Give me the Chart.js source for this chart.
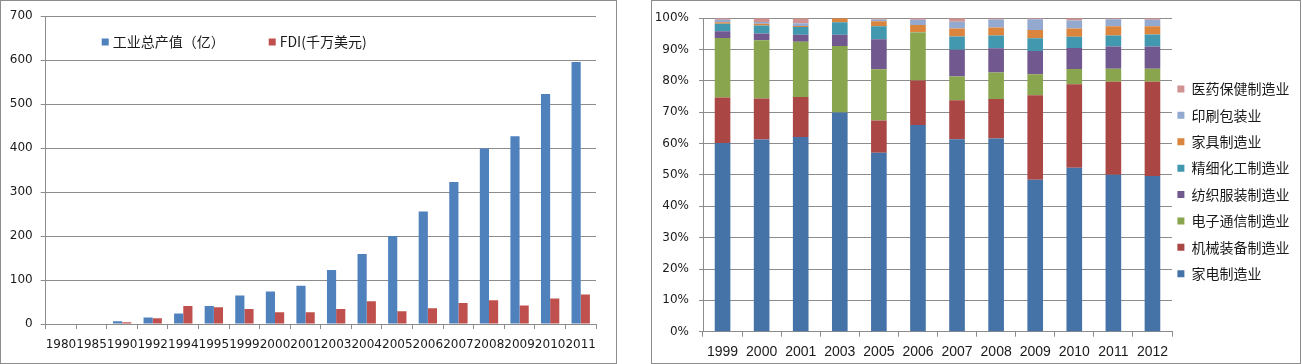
<!DOCTYPE html>
<html>
<head>
<meta charset="utf-8">
<script src="https://cdn.jsdelivr.net/npm/chart.js@4.4.1/dist/chart.umd.min.js"></script>
<style>
  body { margin: 0; background: #fff; }
  .panel { position: absolute; top: 0; height: 364px; border: 1px solid #8c8c8c; box-sizing: border-box; background: #fff; }
  #p1 { left: 0; width: 617px; }
  #p2 { left: 651px; width: 650px; }
  canvas { display: block; }
</style>
</head>
<body>
<div class="panel" id="p1"><canvas id="c1" width="615" height="362"></canvas></div>
<div class="panel" id="p2"><canvas id="c2" width="648" height="362"></canvas></div>
<script>
// left chart: output value vs FDI
const years1 = ['1980', '1985', '1990', '1992', '1994', '1995', '1999', '2000', '2001',
  '2003', '2004', '2005', '2006', '2007', '2008', '2009', '2010', '2011'];
const outputValue = [0, 0, 6, 15, 24, 41, 65, 74, 87, 123, 159, 200, 256, 323, 399, 427, 523, 596];
const fdiValue = [0, 0, 4, 13, 41, 38, 34, 27, 27, 34, 52, 29, 36, 48, 54, 42, 58, 67];
const yTicks1 = [0, 100, 200, 300, 400, 500, 600, 700];

// right chart: industry shares (%)
const years2 = ['1999', '2000', '2001', '2003', '2005', '2006', '2007', '2008', '2009', '2010', '2011', '2012'];
const appliance = [60.2, 61.3, 62.1, 69.9, 57.1, 65.9, 61.4, 61.6, 48.5, 52.3, 50.1, 49.7];
const machinery = [14.5, 13.1, 12.8, 0, 10.3, 14.2, 12.4, 12.6, 26.9, 26.6, 29.6, 30.0];
const electronics = [19.0, 18.6, 17.6, 21.2, 16.3, 15.3, 7.6, 8.5, 6.7, 4.9, 4.2, 4.2];
const textile = [2.1, 2.1, 2.2, 3.6, 9.6, 0, 8.5, 7.7, 7.4, 6.7, 7.1, 7.1];
const chemical = [2.4, 2.6, 2.5, 4.0, 4.1, 0.1, 4.3, 4.1, 4.1, 3.6, 3.5, 3.8];
const furniture = [0.5, 0.5, 0.3, 1.3, 1.6, 2.3, 2.5, 2.5, 2.6, 2.6, 2.9, 2.6];
const printing = [0.8, 0.6, 0.9, 0, 0.6, 1.7, 2.2, 2.6, 3.5, 2.6, 2.3, 2.1];
const pharma = [0.5, 1.2, 1.6, 0, 0.4, 0.5, 1.1, 0.3, 0.3, 0.7, 0.3, 0.5];
const yTicks2 = [0, 10, 20, 30, 40, 50, 60, 70, 80, 90, 100];

const gridGray = '#8c8c8c';
const textColor = '#1a1a1a';
const numFont = { family: 'DejaVu Sans', size: 12 };
const cjkFont = '"Noto Sans CJK SC", "Noto Sans", sans-serif';

// legend drawn inside the plot area, like the Excel original
const insideLegend = {
  id: 'insideLegend',
  afterDraw(chart, args, opts) {
    const ctx = chart.ctx;
    ctx.save();
    ctx.font = '14px ' + cjkFont;
    ctx.textBaseline = 'middle';
    let x = opts.x;
    chart.data.datasets.forEach(ds => {
      ctx.fillStyle = ds.backgroundColor;
      ctx.fillRect(x, opts.y - 3.5, 7, 7);
      ctx.fillStyle = textColor;
      ctx.fillText(ds.label, x + 11, opts.y);
      x += 11 + ctx.measureText(ds.label).width + 44;
    });
    ctx.restore();
  }
};

// small shift for the right-hand legend
const legendNudge = {
  id: 'legendNudge',
  afterLayout(chart, args, opts) {
    const l = chart.legend;
    if (!l) return;
    l.left += opts.dx; l.right += opts.dx;
    l.top += opts.dy; l.bottom += opts.dy;
  }
};

new Chart(document.getElementById('c1'), {
  type: 'bar',
  data: {
    labels: years1,
    datasets: [
      { label: '工业总产值（亿）', data: outputValue, backgroundColor: '#4f81bd' },
      { label: 'FDI(千万美元)', data: fdiValue, backgroundColor: '#c0504d' }
    ]
  },
  options: {
    responsive: false,
    animation: false,
    datasets: { bar: { categoryPercentage: 0.6, barPercentage: 1 } },
    layout: { padding: { top: 14.7, right: 20 } },
    plugins: {
      legend: { display: false },
      tooltip: { enabled: false },
      insideLegend: { x: 100.7, y: 41 }
    },
    scales: {
      x: {
        grid: { drawOnChartArea: false, color: gridGray, tickLength: 5 },
        border: { color: gridGray },
        ticks: { autoSkip: false, maxRotation: 0, minRotation: 0, padding: 9, color: textColor, font: numFont },
        afterFit(s) { s.height = 39; }
      },
      y: {
        min: 0,
        max: 700,
        afterBuildTicks(s) { s.ticks = yTicks1.map(v => ({ value: v })); },
        grid: { color: gridGray, tickLength: 5 },
        border: { color: gridGray },
        ticks: { padding: 8, color: textColor, font: numFont },
        afterFit(s) { s.width = 44.7; }
      }
    }
  },
  plugins: [insideLegend]
});

const shareSeries = [
  ['家电制造业', appliance, '#4572a7'],
  ['机械装备制造业', machinery, '#aa4643'],
  ['电子通信制造业', electronics, '#89a54e'],
  ['纺织服装制造业', textile, '#71588f'],
  ['精细化工制造业', chemical, '#4198af'],
  ['家具制造业', furniture, '#db843d'],
  ['印刷包装业', printing, '#93a9cf'],
  ['医药保健制造业', pharma, '#d19392']
];

new Chart(document.getElementById('c2'), {
  type: 'bar',
  data: {
    labels: years2,
    datasets: shareSeries.map(([label, data, color]) => ({ label, data, backgroundColor: color }))
  },
  options: {
    responsive: false,
    animation: false,
    datasets: { bar: { categoryPercentage: 1, barPercentage: 0.4 } },
    layout: { padding: { top: 14.7, right: 3 } },
    plugins: {
      tooltip: { enabled: false },
      legend: {
        position: 'right',
        reverse: true,
        maxWidth: 125,
        labels: { boxWidth: 7, boxHeight: 7, padding: 12.4, color: textColor, font: { family: cjkFont, size: 14 } }
      },
      legendNudge: { dx: -7, dy: -8 }
    },
    scales: {
      x: {
        stacked: true,
        grid: { drawOnChartArea: false, color: gridGray, tickLength: 5 },
        border: { color: gridGray },
        ticks: { maxRotation: 0, padding: 7, color: textColor, font: { family: 'Liberation Sans', size: 14 } },
        afterFit(s) { s.height = 31.3; }
      },
      y: {
        stacked: true,
        min: 0,
        max: 100,
        afterBuildTicks(s) { s.ticks = yTicks2.map(v => ({ value: v })); },
        grid: { color: gridGray, tickLength: 4 },
        border: { color: gridGray },
        ticks: { padding: 10, color: textColor, font: numFont, callback: v => v + '%' },
        afterFit(s) { s.width = 51; }
      }
    }
  },
  plugins: [legendNudge]
});
</script>
</body>
</html>
